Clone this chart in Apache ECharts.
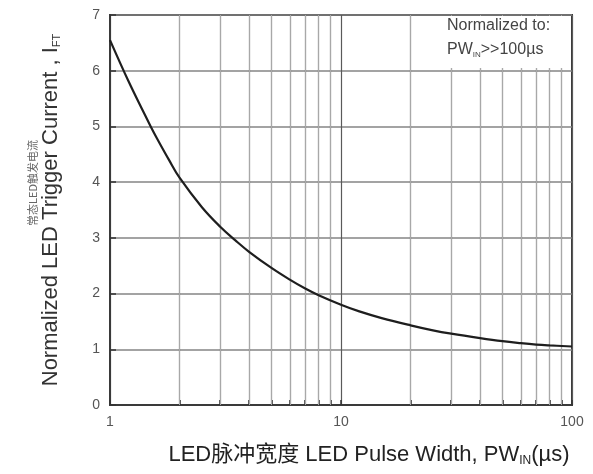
<!DOCTYPE html>
<html>
<head>
<meta charset="utf-8">
<script src="https://cdn.jsdelivr.net/npm/echarts@6/dist/echarts.min.js"></script>
<style>
  html, body { margin: 0; padding: 0; background: #fff; }
  #chart { width: 593px; height: 474px; }
</style>
</head>
<body>
<div id="chart"></div>
<script>
// LED pulse width (µs) and the normalized trigger current
const pulseWidth = [1, 1.2, 1.4, 1.5, 1.6, 1.8, 2, 2.5, 3, 3.5, 4, 5, 6, 7, 8, 10, 12, 15, 20, 25, 30, 40, 50, 60, 70, 80, 100];
const triggerCurrent = [6.55, 5.82, 5.25, 5.0, 4.78, 4.40, 4.08, 3.55, 3.20, 2.95, 2.75, 2.46, 2.25, 2.09, 1.97, 1.80, 1.68, 1.56, 1.43, 1.34, 1.28, 1.20, 1.145, 1.11, 1.085, 1.07, 1.05];

// decade labels on the log axis and the intermediate grid positions
const xDecades = [1, 10, 100];
const xMinorGrid = [2, 3, 4, 5, 6, 7, 8, 9, 20, 30, 40, 50, 60, 70, 80, 90];
const yTicks = [0, 1, 2, 3, 4, 5, 6, 7];

const FONT = '"Liberation Sans", Arial, "Noto Sans CJK SC", sans-serif';

const chart = echarts.init(document.getElementById('chart'), null, { renderer: 'canvas' });

chart.setOption({
  animation: false,
  backgroundColor: '#ffffff',
  grid: {
    left: 110, top: 15, right: 21, bottom: 69,
    show: true, borderColor: '#3a3a3a', borderWidth: 2, backgroundColor: 'transparent'
  },
  xAxis: {
    type: 'log',
    logBase: 10,
    min: xDecades[0],
    max: xDecades[xDecades.length - 1],
    axisLine: { show: true, lineStyle: { color: '#3a3a3a', width: 2 } },
    axisTick: {
      show: true, inside: true, length: 5,
      customValues: xMinorGrid.concat(xDecades),
      lineStyle: { color: '#333', width: 1.5 }
    },
    axisLabel: {
      color: '#555', fontSize: 14, fontFamily: FONT, margin: 10,
      customValues: xDecades,
      formatter: v => String(v)
    },
    splitLine: { show: true, lineStyle: { color: '#5a5a5a', width: 1.2 } }
  },
  yAxis: {
    type: 'value',
    min: yTicks[0],
    max: yTicks[yTicks.length - 1],
    interval: 1,
    axisLine: { show: true, lineStyle: { color: '#3a3a3a', width: 2 } },
    axisTick: { show: true, inside: true, length: 6, lineStyle: { color: '#333', width: 1.5 } },
    axisLabel: { color: '#555', fontSize: 14, fontFamily: FONT, margin: 10 },
    splitLine: { show: true, lineStyle: { color: '#858585', width: 1.6 } }
  },
  series: [{
    type: 'line',
    data: pulseWidth.map((x, i) => [x, triggerCurrent[i]]),
    smooth: 0.4,
    symbol: 'none',
    lineStyle: { color: '#1e1e1e', width: 2.2 },
    z: 5,
    markLine: {
      silent: true,
      symbol: 'none',
      label: { show: false },
      lineStyle: { color: '#a8a8a8', width: 1, type: 'solid' },
      data: xMinorGrid.map(v => ({ xAxis: v })),
      z: 1
    }
  }],
  graphic: [
    // note box in the upper right corner
    {
      type: 'rect', left: 444, top: 16, z: 50,
      shape: { width: 127, height: 52 },
      style: { fill: '#ffffff' }
    },
    {
      type: 'text', left: 447, top: 18, z: 51,
      style: {
        text: '{t|Normalized to:}\n{t|PW}{s|IN}{t|>>100µs}',
        rich: {
          t: { fontSize: 16, fontFamily: FONT, fill: '#444', lineHeight: 24 },
          s: { fontSize: 8, fontFamily: FONT, fill: '#444', padding: [10, 0, 0, 0], lineHeight: 24 }
        }
      }
    },
    // y axis title, two lines rotated
    {
      type: 'text', x: 33, y: 183, rotation: Math.PI / 2, z: 10,
      style: {
        text: '常态LED触发电流',
        font: '11px "Noto Sans CJK SC", ' + FONT,
        fill: '#666', align: 'center', verticalAlign: 'middle'
      }
    },
    {
      type: 'text', x: 51, y: 210, rotation: Math.PI / 2, z: 10,
      style: {
        text: '{t|Normalized LED Trigger Current , I}{s|FT}',
        align: 'center', verticalAlign: 'middle',
        rich: {
          t: { fontSize: 22, fontFamily: FONT, fill: '#333' },
          s: { fontSize: 11, fontFamily: FONT, fill: '#333', padding: [11, 0, 0, 0] }
        }
      }
    },
    // x axis title
    {
      type: 'text', x: 369, y: 455, z: 10,
      style: {
        text: '{t|LED脉冲宽度 LED Pulse Width, PW}{s|IN}{t|(µs)}',
        align: 'center', verticalAlign: 'middle',
        rich: {
          t: { fontSize: 22, fontFamily: '"Liberation Sans", "Noto Sans CJK SC", sans-serif', fill: '#222' },
          s: { fontSize: 12, fontFamily: FONT, fill: '#222', padding: [11, 0, 0, 0] }
        }
      }
    }
  ]
});
</script>
</body>
</html>
